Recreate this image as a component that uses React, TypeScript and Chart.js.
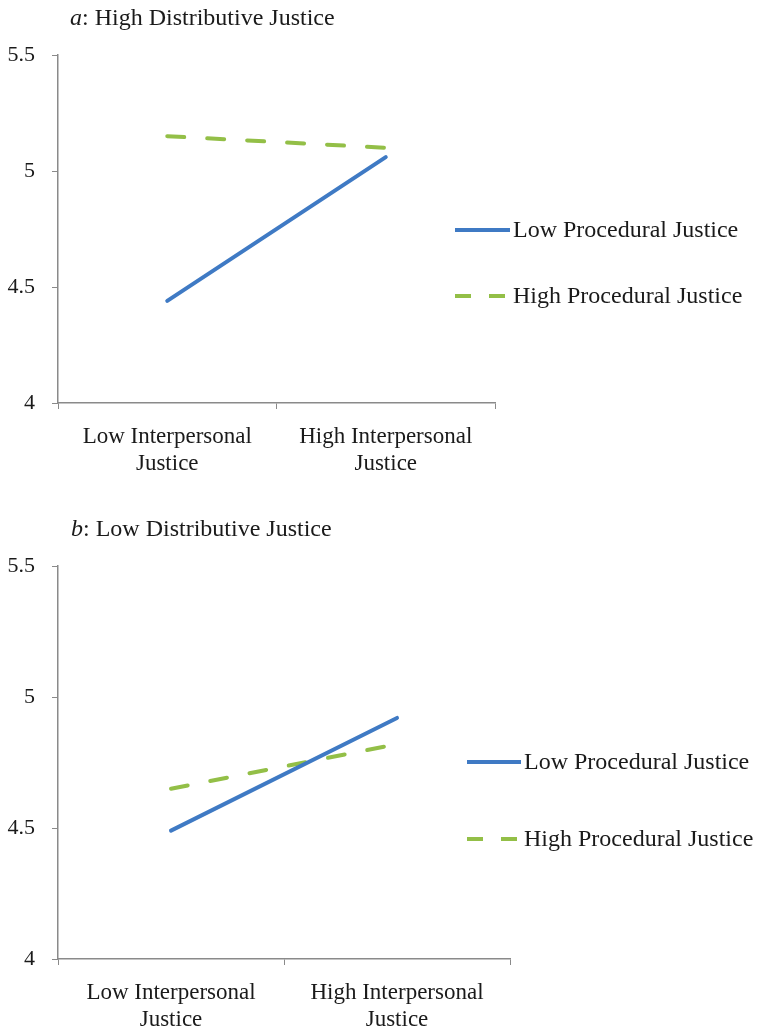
import React, { useEffect, useRef } from "react";
import { Chart, registerables } from "chart.js";

Chart.register(...registerables);

const categories: string[][] = [["Low Interpersonal", "Justice"], ["High Interpersonal", "Justice"]];
const seriesNames = ["Low Procedural Justice", "High Procedural Justice"];
const yTicks = [4, 4.5, 5, 5.5];

// Panel a: High Distributive Justice
const panelALow = [4.44, 5.06];
const panelAHigh = [5.15, 5.1];
// Panel b: Low Distributive Justice
const panelBLow = [4.49, 4.92];
const panelBHigh = [4.65, 4.82];

const BLUE = "#3f7ac4";
const GREEN = "#93bf47";
const AXIS = "#8a8a8a";
const FONT = "'Liberation Serif', 'Times New Roman', serif";

type PanelCfg = {
  letter: string;
  title: string;
  low: number[];
  high: number[];
  height: number;
  padTop: number;
  padRight: number;
  xAxisHeight: number;
  titleX: number;
  titleY: number;
  legX1: number;
  legX2: number;
  legY1: number;
  legY2: number;
};

const extrasPlugin = {
  id: "panelExtras",
  afterDraw(chart: any) {
    const cfg: PanelCfg = chart.options.plugins.panelExtras.cfg;
    const ctx = chart.ctx;
    ctx.save();
    // title
    ctx.fillStyle = "#1a1a1a";
    ctx.textBaseline = "middle";
    ctx.textAlign = "left";
    ctx.font = `italic 24px ${FONT}`;
    ctx.fillText(cfg.letter, cfg.titleX, cfg.titleY);
    const w = ctx.measureText(cfg.letter).width;
    ctx.font = `24px ${FONT}`;
    ctx.fillText(": " + cfg.title, cfg.titleX + w, cfg.titleY);
    // legend
    const rows = [
      { y: cfg.legY1, color: BLUE, dash: [] as number[], name: seriesNames[0] },
      { y: cfg.legY2, color: GREEN, dash: [16, 18], name: seriesNames[1] },
    ];
    rows.forEach((r) => {
      ctx.beginPath();
      ctx.strokeStyle = r.color;
      ctx.lineWidth = 4;
      ctx.lineCap = "butt";
      ctx.setLineDash(r.dash);
      ctx.moveTo(cfg.legX1, r.y);
      ctx.lineTo(cfg.legX2, r.y);
      ctx.stroke();
      ctx.setLineDash([]);
      ctx.fillStyle = "#1a1a1a";
      ctx.font = `24px ${FONT}`;
      ctx.textBaseline = "middle";
      ctx.fillText(r.name, cfg.legX2 + 3, r.y + 1);
    });
    ctx.restore();
  },
};

function Panel({ cfg }: { cfg: PanelCfg }) {
  const ref = useRef<HTMLCanvasElement>(null);
  useEffect(() => {
    if (!ref.current) return;
    const chart = new Chart(ref.current, {
      type: "line",
      data: {
        labels: categories as any,
        datasets: [
          {
            label: seriesNames[0],
            data: cfg.low,
            borderColor: BLUE,
            borderWidth: 4,
            pointRadius: 0,
            borderCapStyle: "round",
            tension: 0,
          },
          {
            label: seriesNames[1],
            data: cfg.high,
            borderColor: GREEN,
            borderWidth: 4,
            pointRadius: 0,
            borderDash: [17, 23],
            borderCapStyle: "round",
            tension: 0,
          },
        ],
      },
      options: {
        animation: false,
        responsive: false,
        maintainAspectRatio: false,
        layout: { padding: { top: cfg.padTop, right: cfg.padRight, left: 0, bottom: 0 } },
        plugins: {
          legend: { display: false },
          tooltip: { enabled: false },
          title: { display: false },
          panelExtras: { cfg },
        } as any,
        scales: {
          x: {
            offset: true,
            grid: {
              offset: true,
              drawOnChartArea: false,
              drawTicks: true,
              tickLength: 6,
              color: AXIS,
            },
            border: { display: true, color: AXIS, width: 1.5 },
            ticks: {
              color: "#1a1a1a",
              font: { family: FONT, size: 23, lineHeight: 1.15 },
              padding: 15,
              maxRotation: 0,
              autoSkip: false,
            },
            afterFit(scale: any) {
              scale.height = cfg.xAxisHeight;
            },
          },
          y: {
            min: yTicks[0],
            max: yTicks[yTicks.length - 1],
            afterBuildTicks(scale: any) {
              scale.ticks = yTicks.map((v) => ({ value: v }));
            },
            grid: {
              drawOnChartArea: false,
              drawTicks: true,
              tickLength: 6,
              color: AXIS,
            },
            border: { display: true, color: AXIS, width: 1.5 },
            ticks: {
              color: "#1a1a1a",
              font: { family: FONT, size: 22 },
              padding: 17,
              callback: (v: any) => String(v),
            },
            afterFit(scale: any) {
              scale.width = 58;
            },
          },
        },
      },
      plugins: [extrasPlugin],
    });
    return () => chart.destroy();
  }, [cfg]);
  return <canvas ref={ref} width={758} height={cfg.height} style={{ display: "block", width: 758, height: cfg.height }} />;
}

const panelA: PanelCfg = {
  letter: "a",
  title: "High Distributive Justice",
  low: panelALow,
  high: panelAHigh,
  height: 492,
  padTop: 55,
  padRight: 263,
  xAxisHeight: 89,
  titleX: 70,
  titleY: 19,
  legX1: 455,
  legX2: 510,
  legY1: 230,
  legY2: 296,
};

const panelB: PanelCfg = {
  letter: "b",
  title: "Low Distributive Justice",
  low: panelBLow,
  high: panelBHigh,
  height: 540,
  padTop: 74,
  padRight: 248,
  xAxisHeight: 73,
  titleX: 71,
  titleY: 38,
  legX1: 467,
  legX2: 521,
  legY1: 270,
  legY2: 347,
};

export default function App() {
  return (
    <div style={{ position: "absolute", left: 0, top: 0, width: 758, height: 1032, background: "#fff", overflow: "hidden" }}>
      <Panel cfg={panelA} />
      <Panel cfg={panelB} />
    </div>
  );
}
